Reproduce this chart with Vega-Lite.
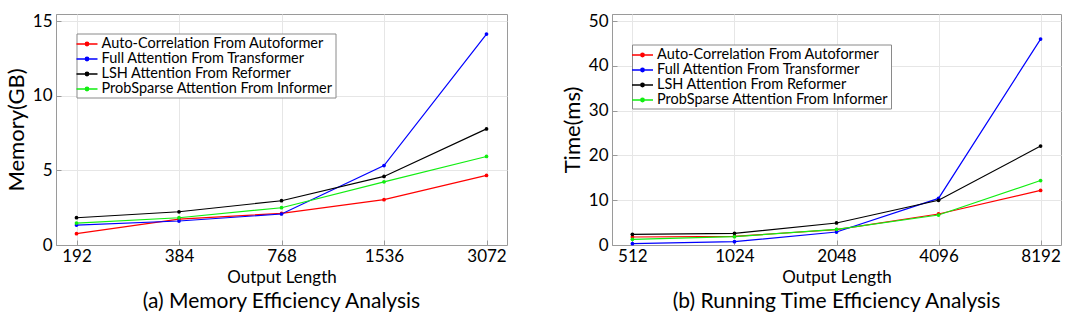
{
  "$schema": "https://vega.github.io/schema/vega-lite/v6.json",
  "padding": {"left": 4, "top": 11, "right": 14, "bottom": 5},
  "config": {
    "font": "Lato",
    "view": {"stroke": "#9a9a9a", "strokeWidth": 1},
    "axis": {"gridColor": "#e6e6e6", "domainColor": "#9a9a9a", "ticks": true, "tickSize": -5, "tickColor": "#9a9a9a", "labelFontSize": 17, "titleFontSize": 17, "titleFontWeight": "normal", "labelColor": "#000", "titleColor": "#000", "labelPadding": 8, "titlePadding": 4},
    "axisY": {"titleFontSize": 22, "labelPadding": 9, "titlePadding": 4},
    "title": {"fontSize": 21, "fontWeight": "normal", "color": "#000"},
    "legend": {"strokeColor": "#8a8a8a", "fillColor": "white", "padding": 2, "symbolType": "M-1.4,0H1.4M0.22,0A0.22,0.22,0,1,1,-0.22,0A0.22,0.22,0,1,1,0.22,0", "symbolSize": 225, "symbolStrokeWidth": 1.5, "labelFontSize": 14.5, "rowPadding": 0, "labelOffset": 6, "labelLimit": 400, "labelColor": "#000", "orient": "none"}
  },
  "datasets": {
    "mem": [
      {"len": "192", "series": "Auto-Correlation From Autoformer", "value": 0.76},
      {"len": "384", "series": "Auto-Correlation From Autoformer", "value": 1.74},
      {"len": "768", "series": "Auto-Correlation From Autoformer", "value": 2.12},
      {"len": "1536", "series": "Auto-Correlation From Autoformer", "value": 3.04},
      {"len": "3072", "series": "Auto-Correlation From Autoformer", "value": 4.67},
      {"len": "192", "series": "Full Attention From Transformer", "value": 1.34},
      {"len": "384", "series": "Full Attention From Transformer", "value": 1.61},
      {"len": "768", "series": "Full Attention From Transformer", "value": 2.08},
      {"len": "1536", "series": "Full Attention From Transformer", "value": 5.33},
      {"len": "3072", "series": "Full Attention From Transformer", "value": 14.15},
      {"len": "192", "series": "LSH Attention From Reformer", "value": 1.83},
      {"len": "384", "series": "LSH Attention From Reformer", "value": 2.23},
      {"len": "768", "series": "LSH Attention From Reformer", "value": 2.97},
      {"len": "1536", "series": "LSH Attention From Reformer", "value": 4.6},
      {"len": "3072", "series": "LSH Attention From Reformer", "value": 7.79},
      {"len": "192", "series": "ProbSparse Attention From Informer", "value": 1.47},
      {"len": "384", "series": "ProbSparse Attention From Informer", "value": 1.83},
      {"len": "768", "series": "ProbSparse Attention From Informer", "value": 2.5},
      {"len": "1536", "series": "ProbSparse Attention From Informer", "value": 4.24},
      {"len": "3072", "series": "ProbSparse Attention From Informer", "value": 5.94}
    ],
    "time": [
      {"len": "512", "series": "Auto-Correlation From Autoformer", "value": 1.79},
      {"len": "1024", "series": "Auto-Correlation From Autoformer", "value": 1.94},
      {"len": "2048", "series": "Auto-Correlation From Autoformer", "value": 3.43},
      {"len": "4096", "series": "Auto-Correlation From Autoformer", "value": 6.93},
      {"len": "8192", "series": "Auto-Correlation From Autoformer", "value": 12.2},
      {"len": "512", "series": "Full Attention From Transformer", "value": 0.3},
      {"len": "1024", "series": "Full Attention From Transformer", "value": 0.75},
      {"len": "2048", "series": "Full Attention From Transformer", "value": 2.9},
      {"len": "4096", "series": "Full Attention From Transformer", "value": 10.4},
      {"len": "8192", "series": "Full Attention From Transformer", "value": 46.0},
      {"len": "512", "series": "LSH Attention From Reformer", "value": 2.38},
      {"len": "1024", "series": "LSH Attention From Reformer", "value": 2.6},
      {"len": "2048", "series": "LSH Attention From Reformer", "value": 4.92},
      {"len": "4096", "series": "LSH Attention From Reformer", "value": 9.99},
      {"len": "8192", "series": "LSH Attention From Reformer", "value": 22.1},
      {"len": "512", "series": "ProbSparse Attention From Informer", "value": 1.27},
      {"len": "1024", "series": "ProbSparse Attention From Informer", "value": 1.86},
      {"len": "2048", "series": "ProbSparse Attention From Informer", "value": 3.5},
      {"len": "4096", "series": "ProbSparse Attention From Informer", "value": 6.7},
      {"len": "8192", "series": "ProbSparse Attention From Informer", "value": 14.4}
    ]
  },
  "spacing": 52,
  "resolve": {"legend": {"color": "independent"}, "scale": {"color": "independent"}},
  "hconcat": [
    {
      "width": 451,
      "height": 231,
      "title": {"text": "(a) Memory Efficiency Analysis", "orient": "bottom", "offset": 6},
      "data": {"name": "mem"},
      "mark": {"type": "line", "strokeWidth": 1.2, "point": {"size": 14, "filled": true}},
      "encoding": {
        "x": {"field": "len", "type": "ordinal", "sort": ["192", "384", "768", "1536", "3072"], "scale": {"type": "point", "padding": 0.2}, "axis": {"title": "Output Length", "labelAngle": 0, "grid": true, "labelPadding": 8, "titlePadding": 5}},
        "y": {"field": "value", "type": "quantitative", "scale": {"domain": [0, 15.5], "nice": false}, "axis": {"values": [0, 5, 10, 15], "title": "Memory(GB)"}},
        "color": {"field": "series", "type": "nominal", "scale": {"domain": ["Auto-Correlation From Autoformer", "Full Attention From Transformer", "LSH Attention From Reformer", "ProbSparse Attention From Informer"], "range": ["#ff0000", "#0000ff", "#000000", "#11ee11"]}, "legend": {"title": null, "legendX": 20.5, "legendY": 19.5}}
      }
    },
    {
      "width": 449,
      "height": 231,
      "title": {"text": "(b) Running Time Efficiency Analysis", "orient": "bottom", "offset": 6},
      "data": {"name": "time"},
      "mark": {"type": "line", "strokeWidth": 1.2, "point": {"size": 14, "filled": true}},
      "encoding": {
        "x": {"field": "len", "type": "ordinal", "sort": ["512", "1024", "2048", "4096", "8192"], "scale": {"type": "point", "padding": 0.2}, "axis": {"title": "Output Length", "labelAngle": 0, "grid": true, "labelPadding": 8, "titlePadding": 5}},
        "y": {"field": "value", "type": "quantitative", "scale": {"domain": [0, 51.6], "nice": false}, "axis": {"values": [0, 10, 20, 30, 40, 50], "title": "Time(ms)"}},
        "color": {"field": "series", "type": "nominal", "scale": {"domain": ["Auto-Correlation From Autoformer", "Full Attention From Transformer", "LSH Attention From Reformer", "ProbSparse Attention From Informer"], "range": ["#ff0000", "#0000ff", "#000000", "#11ee11"]}, "legend": {"title": null, "legendX": 20, "legendY": 30.5}}
      }
    }
  ]
}
